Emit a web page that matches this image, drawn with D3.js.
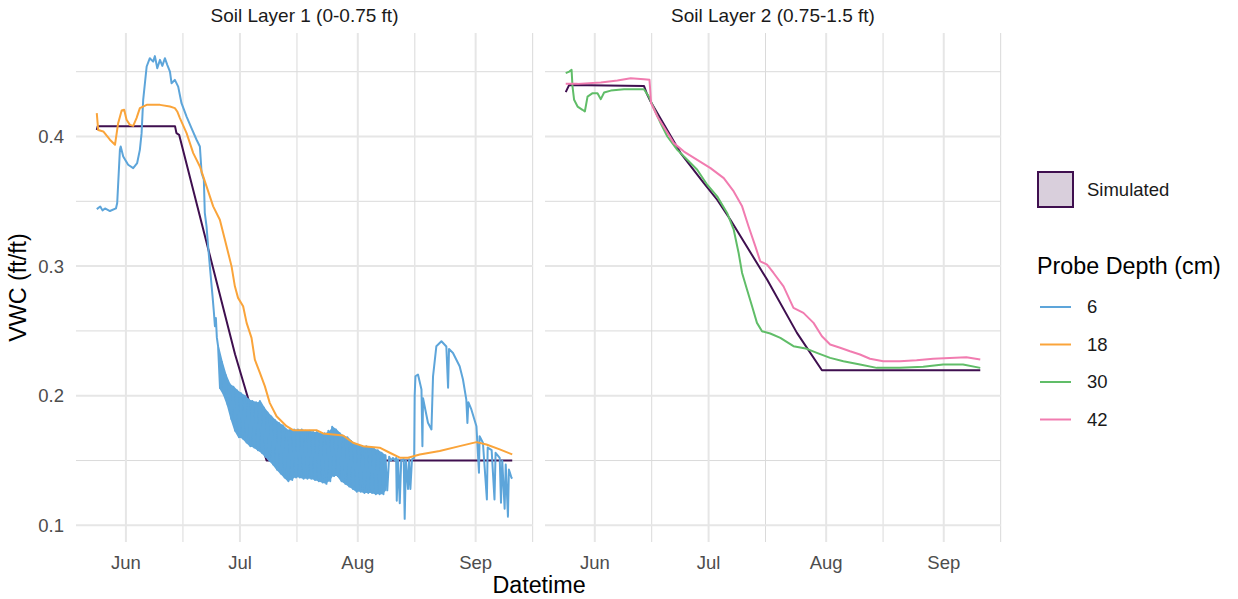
<!DOCTYPE html>
<html><head><meta charset="utf-8">
<script src="https://cdn.jsdelivr.net/npm/d3@7"></script>
<style>body{margin:0;background:#fff}svg{display:block;font-family:"Liberation Sans",Arial,sans-serif}</style>
</head><body><svg id="chart" width="1238" height="599"></svg>
<script>
// ---------------- DATA ----------------
const panelTitles = ["Soil Layer 1 (0-0.75 ft)", "Soil Layer 2 (0.75-1.5 ft)"];
const depthLabels = ["6", "18", "30", "42"];
const depthColors = ["#5DA5DA", "#FAA43A", "#60BD68", "#F17CB0"];
const simLabel = "Simulated";
const xTickLabels = ["Jun", "Jul", "Aug", "Sep"];
const xMajorTicks = ["06-01 00", "07-01 00", "08-01 00", "09-01 00"];
const xMinorTicks = ["06-16 00", "07-16 00", "08-16 00", "09-16 00"];
const yMajorTicks = [0.1, 0.2, 0.3, 0.4];
const yMinorTicks = [0.15, 0.25, 0.35, 0.45];

// Simulated VWC, layer 1 and layer 2
const sim1 = [["05-24 08",0.405],["05-24 14",0.408],["06-13 22",0.408],["06-14 07",0.4026],["06-15 00",0.4013],
  ["06-29 17",0.232],["07-08 00",0.150],["09-10 15",0.150]];
const sim2 = [["05-24 08",0.4342],["05-25 06",0.4398],["06-13 23",0.439],["06-14 16",0.4334],["06-15 17",0.427],
  ["06-23 15",0.3872],["06-29 18",0.364],["07-03 06",0.3512],["07-06 18",0.3358],["07-16 10",0.2896],
  ["07-24 07",0.2485],["07-30 21",0.2197],["09-10 15",0.2197]];

// Probe 6 cm (layer 1): before the daily-oscillation period
const probe6Pre = [["05-24 08",0.344],["05-25 06",0.346],["05-25 20",0.343],["05-26 12",0.3445],["05-27 19",0.3425],
  ["05-29 09",0.3445],["05-29 17",0.3487],["05-30 10",0.3897],["05-30 15",0.3923],["05-31 07",0.3846],
  ["06-01 14",0.3782],["06-02 22",0.3756],["06-03 23",0.3795],["06-04 16",0.3897],["06-05 03",0.4026],
  ["06-05 13",0.4283],["06-06 11",0.454],["06-07 07",0.4604],["06-08 04",0.4578],["06-08 15",0.4620],
  ["06-09 06",0.4527],["06-09 23",0.4591],["06-10 14",0.4545],["06-11 06",0.4604],["06-11 21",0.4553],
  ["06-12 14",0.4501],["06-13 00",0.4411],["06-13 21",0.4437],["06-14 18",0.4385],["06-15 15",0.4257],
  ["06-16 23",0.4154],["06-18 06",0.4065],["06-19 14",0.3975],["06-20 11",0.3923],["06-20 22",0.3718],
  ["06-21 12",0.3666],["06-21 18",0.341],["06-22 05",0.3307],["06-22 15",0.3152],["06-23 02",0.2998],
  ["06-23 19",0.2767],["06-24 03",0.265],["06-24 10",0.2536],["06-24 16",0.260],["06-24 22",0.245]];
// Probe 6 cm: daily highs / lows during the oscillation period
const probe6Days = ["06-25","06-26","06-27","06-28","06-29","06-30","07-01","07-02","07-03","07-04","07-05",
  "07-06","07-07","07-08","07-09","07-10","07-11","07-12","07-13","07-14","07-15","07-16","07-17","07-18",
  "07-19","07-20","07-21","07-22","07-23","07-24","07-25","07-26","07-27","07-28","07-29","07-30","07-31",
  "08-01","08-02","08-03","08-04","08-05","08-06","08-07","08-08"];
const probe6Hi = [0.238,0.226,0.216,0.209,0.207,0.204,0.202,0.200,0.197,0.196,0.195,0.196,0.191,0.187,0.184,
  0.181,0.179,0.177,0.174,0.174,0.174,0.174,0.174,0.173,0.173,0.172,0.172,0.171,0.171,0.173,0.176,0.174,
  0.171,0.169,0.168,0.165,0.163,0.162,0.161,0.161,0.160,0.159,0.158,0.156,0.154];
const probe6Lo = [0.206,0.201,0.193,0.182,0.173,0.168,0.167,0.164,0.161,0.160,0.158,0.156,0.153,0.150,0.147,
  0.143,0.140,0.137,0.134,0.135,0.137,0.137,0.136,0.136,0.136,0.135,0.134,0.133,0.132,0.134,0.138,0.138,
  0.134,0.132,0.130,0.128,0.126,0.126,0.125,0.125,0.125,0.124,0.124,0.124,0.127];
// Probe 6 cm: after the oscillation period
const probe6Post = [["08-09 06",0.153],["08-09 18",0.150],["08-10 06",0.152],["08-10 18",0.150],["08-11 02",0.152],
  ["08-11 06",0.119],["08-11 14",0.151],["08-12 01",0.117],["08-12 10",0.150],["08-13 02",0.151],
  ["08-13 08",0.105],["08-13 16",0.150],["08-14 05",0.128],["08-14 12",0.151],["08-14 20",0.128],
  ["08-15 06",0.151],["08-15 20",0.152],["08-15 23",0.200],["08-16 04",0.215],["08-16 20",0.2164],
  ["08-17 18",0.2048],["08-18 00",0.161],["08-18 04",0.198],["08-18 14",0.1919],["08-19 11",0.1791],
  ["08-20 09",0.174],["08-20 19",0.215],["08-21 16",0.2382],["08-23 00",0.242],["08-24 07",0.238],
  ["08-24 18",0.2061],["08-25 00",0.236],["08-26 01",0.233],["08-27 19",0.2228],["08-28 16",0.2125],
  ["08-29 13",0.1971],["08-29 20",0.179],["08-30 02",0.195],["08-30 21",0.1894],["09-01 05",0.1765],
  ["09-01 21",0.1406],["09-02 01",0.1688],["09-02 22",0.1637],["09-03 23",0.120],["09-04 04",0.160],
  ["09-05 05",0.158],["09-05 23",0.120],["09-06 06",0.156],["09-07 08",0.152],["09-07 16",0.1175],
  ["09-08 00",0.150],["09-08 15",0.1128],["09-08 22",0.147],["09-09 12",0.1067],["09-09 18",0.143],
  ["09-10 10",0.1368],["09-10 15",0.136]];

// Probe 18 cm (layer 1)
const probe18 = [["05-24 08",0.418],["05-24 17",0.405],["05-26 01",0.4039],["05-27 19",0.3975],["05-29 03",0.3936],
  ["05-29 23",0.4103],["05-30 21",0.420],["05-31 13",0.4206],["06-01 04",0.4129],["06-02 01",0.409],
  ["06-02 22",0.4082],["06-03 19",0.4142],["06-04 16",0.4219],["06-06 11",0.4244],["06-09 23",0.4244],
  ["06-12 14",0.4231],["06-13 21",0.4219],["06-14 12",0.4193],["06-15 05",0.4142],["06-16 23",0.4026],
  ["06-18 17",0.3872],["06-20 11",0.3769],["06-22 05",0.3615],["06-23 23",0.3461],["06-25 17",0.3358],
  ["06-27 01",0.3204],["06-28 19",0.2998],["06-29 16",0.2844],["06-30 12",0.2755],["07-01 20",0.269],
  ["07-02 18",0.2562],["07-04 01",0.2446],["07-04 22",0.2279],["07-06 06",0.2177],["07-07 13",0.2074],
  ["07-08 20",0.1945],["07-10 15",0.1842],["07-13 06",0.1765],["07-15 00",0.1734],["07-21 03",0.1734],
  ["07-22 21",0.1709],["07-28 03",0.1693],["07-30 18",0.1637],["08-02 09",0.1611],["08-06 18",0.1599],
  ["08-09 10",0.156],["08-12 01",0.1522],["08-14 05",0.1522],["08-17 07",0.1547],["08-22 13",0.1573],
  ["08-27 19",0.1611],["09-01 05",0.1642],["09-03 20",0.1624],["09-07 08",0.1586],["09-10 15",0.1547]];

// Probe 30 cm (layer 2)
const probe30 = [["05-24 08",0.4489],["05-25 06",0.4501],["05-25 21",0.4514],["05-26 03",0.4385],["05-26 13",0.4283],
  ["05-27 11",0.4231],["05-28 18",0.4206],["05-29 09",0.4193],["05-30 02",0.4308],["05-31 10",0.4334],
  ["06-01 17",0.4334],["06-02 14",0.4288],["06-03 11",0.4339],["06-05 05",0.4354],["06-08 17",0.4365],
  ["06-13 23",0.4365],["06-15 06",0.4308],["06-16 04",0.4244],["06-18 08",0.4103],["06-20 03",0.400],
  ["06-22 18",0.3897],["06-25 09",0.382],["06-28 00",0.3743],["06-30 15",0.3628],["07-03 06",0.3538],
  ["07-05 21",0.341],["07-07 15",0.3281],["07-08 22",0.3101],["07-09 20",0.2947],["07-11 03",0.2819],
  ["07-12 11",0.269],["07-13 18",0.2562],["07-15 02",0.2497],["07-17 06",0.248],["07-19 22",0.2446],
  ["07-23 09",0.2382],["07-26 22",0.2362],["07-29 13",0.2331],["08-02 01",0.2292],["08-05 13",0.2266],
  ["08-09 22",0.2241],["08-14 08",0.2215],["08-20 11",0.2215],["08-26 14",0.2223],["08-31 20",0.2241],
  ["09-06 02",0.2241],["09-10 15",0.2215]];

// Probe 42 cm (layer 2)
const probe42 = [["05-24 08",0.4406],["05-27 11",0.4406],["06-02 14",0.4416],["06-06 23",0.4432],["06-10 11",0.445],
  ["06-13 23",0.4442],["06-15 10",0.4437],["06-15 20",0.4257],["06-17 12",0.4154],["06-19 16",0.4052],
  ["06-21 20",0.3949],["06-24 12",0.3884],["06-28 00",0.382],["07-01 12",0.3756],["07-05 00",0.3679],
  ["07-07 15",0.3576],["07-09 20",0.3461],["07-11 13",0.3306],["07-13 08",0.3152],["07-14 15",0.3037],
  ["07-16 10",0.3011],["07-18 03",0.2947],["07-20 18",0.2844],["07-23 09",0.2678],["07-26 00",0.2639],
  ["07-28 16",0.2562],["07-30 21",0.2459],["08-02 01",0.2395],["08-04 16",0.237],["08-07 07",0.2343],
  ["08-09 22",0.2318],["08-12 13",0.2285],["08-16 01",0.2266],["08-20 11",0.2266],["08-24 20",0.2274],
  ["08-29 05",0.2285],["09-02 14",0.2292],["09-06 23",0.2297],["09-10 15",0.2279]];

// ---------------- BUILD ----------------
const parseT = s => d3.timeParse("%Y-%m-%d %H")("2023-" + s);
const toPts = arr => arr.map(([t, v]) => ({t: parseT(t), v}));

const band = [];
probe6Days.forEach((d, i) => {
  band.push({t: parseT(d + " 06"), v: probe6Hi[i]});
  band.push({t: parseT(d + " 18"), v: probe6Lo[i]});
});
const bandRange = probe6Days.map((d, i) => ({t: parseT(d + " 12"), hi: probe6Hi[i], lo: probe6Lo[i]}));
const p6 = toPts(probe6Pre).concat(band, toPts(probe6Post));

const panels = [
  {title: panelTitles[0], sim: toPts(sim1), range: bandRange, rangeColor: depthColors[0],
   series: [{pts: p6, color: depthColors[0]}, {pts: toPts(probe18), color: depthColors[1]}]},
  {title: panelTitles[1], sim: toPts(sim2), range: null,
   series: [{pts: toPts(probe30), color: depthColors[2]}, {pts: toPts(probe42), color: depthColors[3]}]}
];

const allPts = panels.flatMap(p => p.series.flatMap(s => s.pts).concat(p.sim));
const tExt = d3.extent(allPts, d => d.t), vExt = d3.extent(allPts, d => d.v);
const tPad = (tExt[1] - tExt[0]) * 0.05, vPad = (vExt[1] - vExt[0]) * 0.05;
const xDomain = [new Date(+tExt[0] - tPad), new Date(+tExt[1] + tPad)];
const yDomain = [vExt[0] - vPad, vExt[1] + vPad];

const svg = d3.select("#chart");
const panelTop = 33, panelBottom = 542;
const panelX = [[76, 533], [545, 1001]];
const y = d3.scaleLinear().domain(yDomain).range([panelBottom, panelTop]);
const simColor = "#3f0f4f";
const smallFont = 18.5, bigFont = 23.3;

panels.forEach((p, i) => {
  const x = d3.scaleTime().domain(xDomain).range(panelX[i]);
  const g = svg.append("g");
  const inX = t => t >= xDomain[0] && t <= xDomain[1];
  // minor grid
  g.selectAll(".ymin").data(yMinorTicks).join("line")
    .attr("x1", panelX[i][0]).attr("x2", panelX[i][1]).attr("y1", d => y(d)).attr("y2", d => y(d))
    .attr("stroke", "#dadada").attr("stroke-width", 1);
  g.selectAll(".xmin").data(xMinorTicks.map(parseT).filter(inX)).join("line")
    .attr("x1", d => x(d)).attr("x2", d => x(d)).attr("y1", panelTop).attr("y2", panelBottom)
    .attr("stroke", "#dadada").attr("stroke-width", 1);
  // major grid
  g.selectAll(".ymaj").data(yMajorTicks).join("line")
    .attr("x1", panelX[i][0]).attr("x2", panelX[i][1]).attr("y1", d => y(d)).attr("y2", d => y(d))
    .attr("stroke", "#e6e6e6").attr("stroke-width", 2);
  g.selectAll(".xmaj").data(xMajorTicks.map(parseT)).join("line")
    .attr("x1", d => x(d)).attr("x2", d => x(d)).attr("y1", panelTop).attr("y2", panelBottom)
    .attr("stroke", "#e6e6e6").attr("stroke-width", 2);

  // strip title
  svg.append("text").attr("x", (panelX[i][0] + panelX[i][1]) / 2).attr("y", 22)
    .attr("text-anchor", "middle").attr("font-size", 19).attr("fill", "#1a1a1a").text(p.title);

  // x tick labels
  g.selectAll(".xl").data(xMajorTicks.map(parseT)).join("text")
    .attr("x", d => x(d)).attr("y", 568.5).attr("text-anchor", "middle")
    .attr("font-size", smallFont).attr("fill", "#4d4d4d").text((d, k) => xTickLabels[k]);

  const line = d3.line().x(d => x(d.t)).y(d => y(d.v));
  g.append("path").datum(p.sim).attr("d", line).attr("fill", "none")
    .attr("stroke", simColor).attr("stroke-width", 2).attr("stroke-linejoin", "round");
  if (p.range) {
    const area = d3.area().x(d => x(d.t)).y0(d => y(d.lo)).y1(d => y(d.hi));
    g.append("path").datum(p.range).attr("d", area).attr("fill", p.rangeColor);
  }
  p.series.forEach(s => {
    g.append("path").datum(s.pts).attr("d", line).attr("fill", "none")
      .attr("stroke", s.color).attr("stroke-width", 2).attr("stroke-linejoin", "round");
  });
});

// y tick labels
svg.selectAll(".yl").data(yMajorTicks).join("text")
  .attr("x", 64).attr("y", d => y(d)).attr("dy", "0.35em").attr("text-anchor", "end")
  .attr("font-size", smallFont).attr("fill", "#4d4d4d").text(d => d3.format(".1f")(d));

// axis titles
svg.append("text").attr("x", 539).attr("y", 593).attr("text-anchor", "middle")
  .attr("font-size", bigFont).attr("fill", "#000").text("Datetime");
svg.append("text").attr("transform", `translate(26,${(panelTop + panelBottom) / 2}) rotate(-90)`)
  .attr("text-anchor", "middle").attr("font-size", bigFont).attr("fill", "#000").text("VWC (ft/ft)");

// legend: simulated
svg.append("rect").attr("x", 1038).attr("y", 172).attr("width", 35).attr("height", 35)
  .attr("fill", simColor).attr("fill-opacity", 0.2).attr("stroke", simColor).attr("stroke-width", 2);
svg.append("text").attr("x", 1087).attr("y", 189.5).attr("dy", "0.35em").attr("font-size", smallFont)
  .attr("fill", "#1a1a1a").text(simLabel);
// legend: probe depth
svg.append("text").attr("x", 1037).attr("y", 274).attr("font-size", bigFont).attr("fill", "#000").text("Probe Depth (cm)");
const lg = svg.selectAll(".lg").data(depthLabels).join("g")
  .attr("transform", (d, k) => `translate(1040,${307 + k * 37.5})`);
lg.append("line").attr("x1", 0).attr("x2", 31).attr("stroke", (d, k) => depthColors[k]).attr("stroke-width", 2);
lg.append("text").attr("x", 47).attr("dy", "0.35em").attr("font-size", smallFont).attr("fill", "#1a1a1a").text(d => d);
</script></body></html>
